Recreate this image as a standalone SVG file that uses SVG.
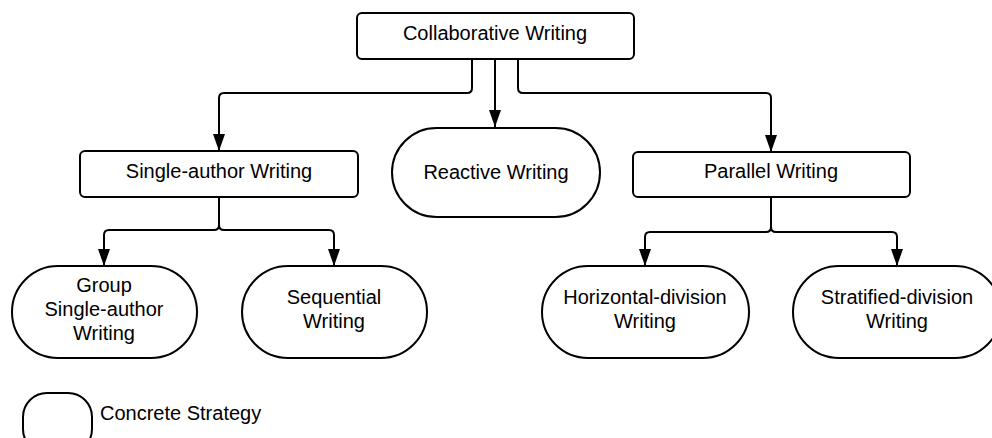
<svg xmlns="http://www.w3.org/2000/svg" width="992" height="438" viewBox="0 0 992 438">
  <style>
    .box { fill: #ffffff; stroke: #000000; stroke-width: 2; }
    .lbl { font-family: "Liberation Sans", Arial, sans-serif; font-size: 20px; fill: #000000; text-anchor: middle; }
    .leg { font-family: "Liberation Sans", Arial, sans-serif; font-size: 20px; fill: #000000; }
    .edge { fill: none; stroke: #000000; stroke-width: 2; marker-end: url(#arrow); }
  </style>
  <defs>
    <marker id="arrow" viewBox="0 0 17 12" refX="17" refY="6" markerWidth="17" markerHeight="12" markerUnits="userSpaceOnUse" orient="auto">
      <path d="M0,0 L17,6 L0,12 Z" fill="#000000"/>
    </marker>
  </defs>
  <rect width="992" height="438" fill="#ffffff"/>

  <g id="connectors">
    <!-- root to first level -->
    <path class="edge" d="M472,59 V88 Q472,93 467,93 H224 Q219,93 219,98 V151"/>
    <path class="edge" d="M495,59 V127"/>
    <path class="edge" d="M518,59 V88 Q518,93 523,93 H766 Q771,93 771,98 V152"/>
    <!-- single-author branches -->
    <path class="edge" d="M219,197 V225 Q219,230 214,230 H109 Q104,230 104,235 V266"/>
    <path class="edge" d="M219,197 V225 Q219,230 224,230 H329 Q334,230 334,235 V266"/>
    <!-- parallel branches -->
    <path class="edge" d="M771,197 V227 Q771,232 766,232 H650 Q645,232 645,237 V266"/>
    <path class="edge" d="M771,197 V227 Q771,232 776,232 H892 Q897,232 897,237 V266"/>
  </g>

  <g id="collaborative">
    <rect class="box" x="357" y="13" width="277" height="46" rx="5"/>
    <text class="lbl" x="495" y="40">Collaborative Writing</text>
  </g>
  <g id="single-author">
    <rect class="box" x="80" y="151" width="278" height="46" rx="5"/>
    <text class="lbl" x="219" y="178">Single-author Writing</text>
  </g>
  <g id="reactive">
    <rect class="box" x="392" y="128" width="208" height="89" rx="44.5"/>
    <text class="lbl" x="496" y="179">Reactive Writing</text>
  </g>
  <g id="parallel">
    <rect class="box" x="633" y="152" width="277" height="45" rx="5"/>
    <text class="lbl" x="771" y="178">Parallel Writing</text>
  </g>
  <g id="group-single-author">
    <rect class="box" x="12" y="266" width="185" height="92" rx="46"/>
    <text class="lbl" x="104" y="292">Group</text>
    <text class="lbl" x="104" y="316">Single-author</text>
    <text class="lbl" x="104" y="340">Writing</text>
  </g>
  <g id="sequential">
    <rect class="box" x="242" y="266" width="185" height="92" rx="46"/>
    <text class="lbl" x="334" y="304">Sequential</text>
    <text class="lbl" x="334" y="328">Writing</text>
  </g>
  <g id="horizontal-division">
    <rect class="box" x="542" y="266" width="207" height="92" rx="46"/>
    <text class="lbl" x="645" y="304">Horizontal-division</text>
    <text class="lbl" x="645" y="328">Writing</text>
  </g>
  <g id="stratified-division">
    <rect class="box" x="793" y="266" width="208" height="92" rx="46"/>
    <text class="lbl" x="897" y="304">Stratified-division</text>
    <text class="lbl" x="897" y="328">Writing</text>
  </g>

  <g id="legend">
    <rect class="box" x="23" y="393" width="69" height="60" rx="24"/>
    <text class="leg" x="100" y="420">Concrete Strategy</text>
  </g>
</svg>
